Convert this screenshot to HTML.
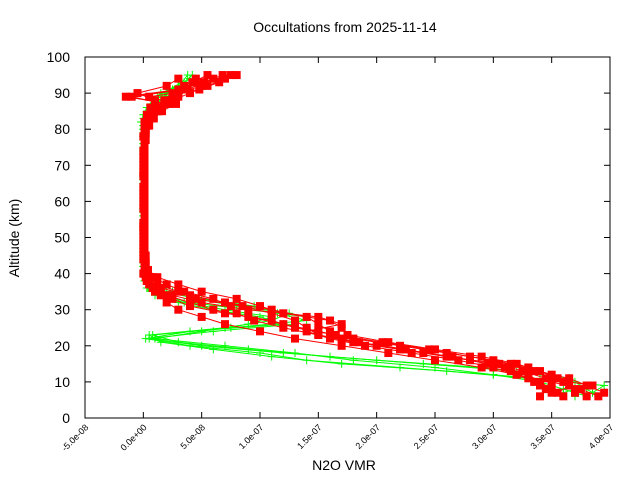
<!DOCTYPE html>
<html><head><meta charset="utf-8"><style>
body{margin:0;background:#fff;}
svg text{font-family:"Liberation Sans",sans-serif;}
</style></head><body>
<svg id="chart" width="640" height="480" viewBox="0 0 640 480">
<rect width="640" height="480" fill="#fff"/>
<text x="345" y="32" font-size="14" text-anchor="middle">Occultations from 2025-11-14</text>
<g id="ticks"></g>
<g id="series"></g>
<rect x="85" y="57" width="525" height="361" fill="none" stroke="#000"/>
<text x="344" y="470" font-size="14" text-anchor="middle">N2O VMR</text>
<text transform="translate(19,238) rotate(-90)" font-size="14" text-anchor="middle">Altitude (km)</text>
</svg>
<script>
const xTicks=[-5e-8,0,5e-8,1e-7,1.5e-7,2e-7,2.5e-7,3e-7,3.5e-7,4e-7];
const xTickLabels=["-5.0e-08","0.0e+00","5.0e-08","1.0e-07","1.5e-07","2.0e-07","2.5e-07","3.0e-07","3.5e-07","4.0e-07"];
const yTicks=[0,10,20,30,40,50,60,70,80,90,100];
const alts=[6,8,10,12,14,16,18,20,22,24,26,28,30,32,34,36,38,40,42,44,46,48,50,52,54,56,58,60,62,64,66,68,70,72,74,76,78,80,82,84,86,88,90,92,94];
const alts2=[7,9,11,13,15,17,19,21,23,25,27,29,31,33,35,37,39,41,43,45,47,49,51,53,55,57,59,61,63,65,67,69,71,73,75,77,79,81,83,85,87,89,91,93,95];
const red1=[380,370,360,350,330,300,260,220,180,150,120,90,60,40,20,8,3,1,1,1,0,1,1,1,0,1,1,1,1,0,1,1,1,1,0,1,1,1,2,5,10,18,25,35,45];
const red2=[360,350,340,330,310,280,240,200,170,160,150,140,110,70,40,15,5,2,1,1,1,0,1,1,1,1,0,1,1,1,1,1,0,1,1,1,1,2,3,8,15,25,40,55,70];
const red3=[390,375,350,320,290,250,210,170,130,100,70,50,30,20,15,10,4,1,1,0,1,1,1,0,1,1,1,1,0,1,1,1,1,0,1,1,1,1,1,3,6,10,-5,20,30];
const red4=[340,345,335,320,300,270,230,190,160,140,170,150,90,50,25,10,3,0,1,1,1,1,0,1,1,1,1,0,1,1,1,0,1,1,1,1,0,1,2,6,12,20,30,50,60];
const red5=[370,385,345,325,305,260,225,185,150,120,95,80,75,60,35,20,8,3,2,1,1,1,1,0,1,1,1,1,1,1,0,1,1,1,1,1,2,4,8,14,22,-15,30,45,80];
const red6=[355,365,355,340,320,290,250,210,175,170,160,120,100,80,50,30,12,4,2,2,1,1,1,1,1,1,1,1,1,1,1,1,1,1,1,2,2,5,9,16,28,5,48,65,75];
const red7=[395,380,365,335,315,280,245,205,165,130,110,70,40,25,10,5,2,1,1,1,1,1,1,1,1,1,1,1,1,1,1,1,1,1,1,1,1,3,7,12,20,30,38,52,68];
const red8=[350,340,330,315,295,265,220,180,150,140,130,110,85,45,30,12,6,2,1,1,1,1,1,1,1,1,1,1,1,1,1,1,1,1,1,1,1,2,5,11,18,-10,35,42,55];
const green1=[390,380,370,300,220,140,100,40,2,40,120,100,60,30,10,3,1,1,0,1,0,0,1,0,0,1,0,0,1,0,0,1,0,0,1,0,0,1,0,2,5,10,20,30,40];
const green2=[370,375,360,340,290,200,120,50,5,60,130,140,90,40,15,5,2,1,1,0,0,1,0,0,1,0,0,1,0,0,1,0,0,1,0,0,1,0,1,3,8,15,25,40,45];
const green3=[380,360,340,300,250,180,130,70,10,50,90,110,70,35,12,4,1,0,0,0,1,0,0,1,0,0,1,0,0,1,0,0,1,0,0,1,0,0,-2,0,3,8,15,30,40];
const green4=[385,395,330,260,170,110,60,15,5,70,110,125,80,45,20,6,2,1,0,0,1,0,0,0,1,0,0,0,1,0,0,0,1,0,0,0,1,0,1,3,9,18,25,35,42];
const green5=[360,380,365,320,240,160,90,30,8,75,140,115,95,50,25,8,2,1,0,1,0,0,0,1,0,0,0,1,0,0,0,1,0,0,0,1,0,0,0,4,7,12,22,33,38];
const redSeries=[[alts,red1],[alts,red2],[alts,red3],[alts,red4],[alts2,red5],[alts2,red6],[alts2,red7],[alts2,red8]];
const greenSeries=[[alts,green1],[alts,green2],[alts,green3],[alts2,green4],[alts2,green5]];

const NS="http://www.w3.org/2000/svg";
const X0=85,X1=610,Y0=418,Y1=57;
function xs(v){return X0+(v+5e-8)/(4.5e-7)*(X1-X0);}
function ys(a){return Y0-a/100*(Y0-Y1);}
function mk(t,attrs,parent){const e=document.createElementNS(NS,t);for(const k in attrs)e.setAttribute(k,attrs[k]);parent.appendChild(e);return e;}
const tg=document.getElementById('ticks');
xTicks.forEach((t,i)=>{
  const x=xs(t);
  const l1=mk('line',{x1:x,y1:Y0,x2:x,y2:Y0-6,stroke:'#000'},tg);
  
  
  const l2=mk('line',{x1:x,y1:Y1,x2:x,y2:Y1+6,stroke:'#000'},tg);
  
  
  const tx=mk('text',{x:x+4,y:Y0+10,'font-size':9,'text-anchor':'end',transform:`rotate(-45 ${x+4} ${Y0+10})`},tg);
  tx.textContent=xTickLabels[i];
  
  
});
yTicks.forEach(t=>{
  const y=ys(t);
  const l1=mk('line',{x1:X0,y1:y,x2:X0+6,y2:y,stroke:'#000'},tg);
  
  
  const l2=mk('line',{x1:X1,y1:y,x2:X1-6,y2:y,stroke:'#000'},tg);
  
  
  const tx=mk('text',{x:X0-15,y:y+5,'font-size':14,'text-anchor':'end'},tg);
  tx.textContent=String(t);
  
  
});
const sg=document.getElementById('series');
greenSeries.forEach(([al,arr])=>{
  const pts=arr.map((v,i)=>xs(v*1e-9).toFixed(1)+','+ys(al[i]).toFixed(1)).join(' ');
  const pl=mk('polyline',{points:pts,fill:'none',stroke:'#00ff00','stroke-width':1},sg);
  
  
  arr.forEach((v,i)=>{
    const x=xs(v*1e-9),y=ys(al[i]);
    const p=mk('path',{d:`M${x-4},${y}H${x+4}M${x},${y-4}V${y+4}`,stroke:'#00ff00','stroke-width':1},sg);
    
    
  });
});
redSeries.forEach(([al,arr])=>{
  const pts=arr.map((v,i)=>xs(v*1e-9).toFixed(1)+','+ys(al[i]).toFixed(1)).join(' ');
  const pl=mk('polyline',{points:pts,fill:'none',stroke:'#ff0000','stroke-width':1},sg);
  
  
  arr.forEach((v,i)=>{
    const x=xs(v*1e-9),y=ys(al[i]);
    const r=mk('rect',{x:x-4,y:y-4,width:8,height:8,fill:'#ff0000'},sg);
    
    
  });
});
</script>
</body></html>
